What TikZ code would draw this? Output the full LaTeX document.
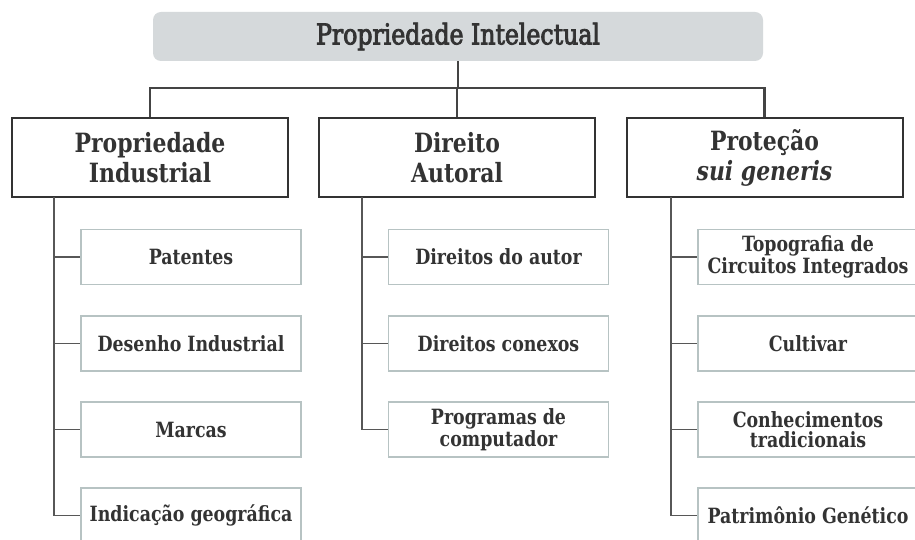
\documentclass[tikz,border=0pt]{standalone}
\usepackage{fontspec}
\setmainfont{DejaVu Serif Condensed}
\newfontfamily\slabb[FakeStretch=0.92]{DejaVu Serif Condensed Bold}
\newfontfamily\slabbi[FakeStretch=0.92]{DejaVu Serif Condensed Bold Italic}
\newfontfamily\slabm[FakeStretch=0.92,FakeBold=3]{DejaVu Serif Condensed}
\definecolor{txt}{HTML}{333333}
\definecolor{titlefill}{HTML}{D5D9DB}
\definecolor{childline}{HTML}{B7C3C3}
\definecolor{conn}{HTML}{444444}
\tikzset{
  titlebox/.style={fill=titlefill, draw=none, rounded corners=8pt, minimum width=610pt, minimum height=49pt, inner sep=0pt, text=txt, font=\slabm\fontsize{28.5}{30}\selectfont},
  catbox/.style={draw=txt, line width=2pt, fill=white, minimum width=276pt, minimum height=79pt, inner sep=0pt, align=center, text=txt, font=\slabb\fontsize{26.5}{30}\selectfont},
  childbox/.style={draw=childline, line width=1.6pt, fill=white, minimum width=220pt, minimum height=55pt, inner sep=0pt, align=center, text=txt, font=\slabb\fontsize{21}{19.5}\selectfont},
  topline/.style={draw=conn, line width=2.6pt},
  trunk/.style={draw=conn!90!white, line width=1.6pt},
}
\begin{document}
\begin{tikzpicture}[x=1pt,y=-1pt]
\useasboundingbox (0,0) rectangle (915,540);
\clip (0,0) rectangle (915,540);
\fill[white] (0,0) rectangle (915,540);
% title
\node[titlebox] (pi) at (458,36.5) {Propriedade Intelectual};
% categories
\node[catbox] (ind) at (150,157.5) {Propriedade\\Industrial};
\node[catbox] (aut) at (457,157.5) {Direito\\Autoral};
\node[catbox] (sui) at (764.5,157.5) {Proteção\\{\slabbi sui generis}};
% top connectors
\coordinate (bar) at (458,88);
\draw[topline] (pi.south) -- (bar);
\draw[topline] (ind.north) |- (bar);
\draw[topline] (sui.north) |- (bar);
\draw[topline] (aut.north) -- (aut.north |- bar);
% children column 1
\node[childbox] (pat) at (191,257) {Patentes};
\node[childbox] (des) at (191,343.5) {Desenho Industrial};
\node[childbox] (mar) at (191,429.5) {Marcas};
\node[childbox] (geo) at (191,515.5) {Indicação geográfica};
% children column 2
\node[childbox] (dau) at (498.5,257) {Direitos do autor};
\node[childbox] (con) at (498.5,343.5) {Direitos conexos};
\node[childbox] (prg) at (498.5,429.5) {Programas de\\computador};
% children column 3
\node[childbox] (top) at (808,257) {Topografia de\\Circuitos Integrados};
\node[childbox] (cul) at (808,343.5) {Cultivar};
\node[childbox] (tra) at (808,429.5) {Conhecimentos\\tradicionais};
\node[childbox] (gen) at (808,515.5) {Patrimônio Genético};
% trunks
\coordinate (t1) at (54,197);
\coordinate (t2) at (362,197);
\coordinate (t3) at (671,197);
\draw[trunk] (t1) |- (geo.west);
\draw[trunk] (t1 |- pat.west) -- (pat.west);
\draw[trunk] (t1 |- des.west) -- (des.west);
\draw[trunk] (t1 |- mar.west) -- (mar.west);
\draw[trunk] (t2) |- (prg.west);
\draw[trunk] (t2 |- dau.west) -- (dau.west);
\draw[trunk] (t2 |- con.west) -- (con.west);
\draw[trunk] (t3) |- (gen.west);
\draw[trunk] (t3 |- top.west) -- (top.west);
\draw[trunk] (t3 |- cul.west) -- (cul.west);
\draw[trunk] (t3 |- tra.west) -- (tra.west);
\end{tikzpicture}
\end{document}
